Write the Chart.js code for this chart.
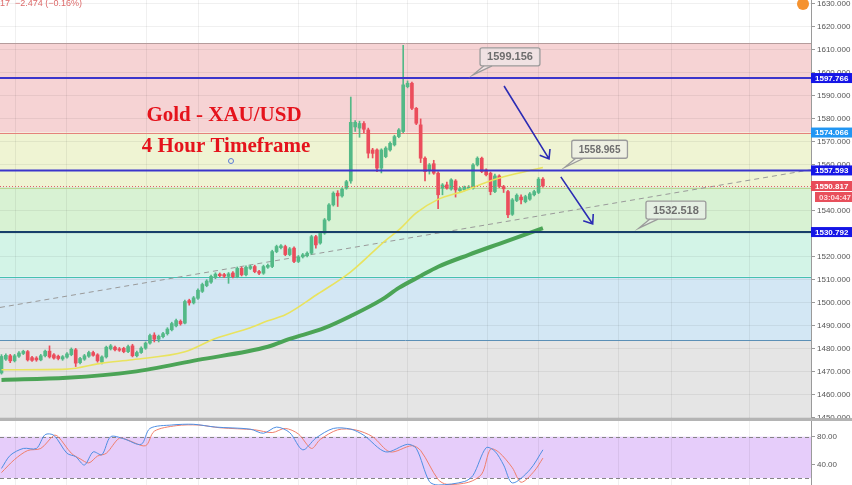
<!DOCTYPE html>
<html>
<head>
<meta charset="utf-8">
<script src="https://cdn.jsdelivr.net/npm/chart.js@4.4.0/dist/chart.umd.min.js"></script>
<style>
  body { margin: 0; background: #fff; width: 852px; height: 485px; overflow: hidden; position: relative; }
  #priceWrap { position: absolute; left: 0; top: 0; width: 852px; height: 419px; }
  #sep { position: absolute; left: 0; top: 418px; width: 852px; height: 3px; background: #b4b4b4; }
  #oscWrap { position: absolute; left: 0; top: 421px; width: 852px; height: 64px; }
</style>
</head>
<body>
<div id="priceWrap"><canvas id="priceChart"></canvas></div>
<div id="sep"></div>
<div id="oscWrap"><canvas id="oscChart"></canvas></div>
<script>
// 1. DATA (4 hour candles, index = candle number)
const openP = [
  1469.5, 1475.5, 1477.0, 1474.8, 1476.8, 1478.0, 1478.8, 1476.2, 1476.0, 1475.2,
  1477.0, 1479.0, 1477.4, 1476.8, 1475.6, 1476.4, 1477.5, 1479.6, 1474.0, 1475.5,
  1476.8, 1478.4, 1477.4, 1474.2, 1476.5, 1480.0, 1480.7, 1480.0, 1480.2, 1478.8,
  1481.3, 1477.0, 1478.4, 1480.3, 1482.5, 1486.0, 1484.2, 1485.3, 1486.6, 1488.3,
  1490.0, 1492.0, 1491.2, 1501.0, 1500.0, 1502.0, 1505.0, 1507.5, 1509.0, 1511.0,
  1512.5, 1512.3, 1511.5, 1513.0, 1511.4, 1515.0, 1512.2, 1515.0, 1515.8, 1513.6,
  1512.9, 1515.5, 1515.8, 1522.3, 1524.0, 1524.5, 1521.0, 1523.8, 1518.0, 1520.0,
  1520.5, 1521.6, 1528.8, 1526.0, 1530.3, 1536.1, 1542.6, 1547.7, 1546.5, 1549.9,
  1553.0, 1576.5, 1576.0, 1578.0, 1575.2, 1566.5, 1566.5, 1558.6, 1563.6, 1566.5,
  1568.7, 1572.3, 1574.5, 1594.0, 1595.5, 1584.6, 1577.4, 1562.9, 1557.8, 1560.5,
  1556.4, 1549.9, 1551.3, 1549.5, 1553.0, 1548.8, 1549.2, 1549.8, 1549.9, 1560.0,
  1562.9, 1557.8, 1556.4, 1548.4, 1555.2, 1550.6, 1548.4, 1538.5, 1544.5, 1546.0,
  1544.0, 1545.1, 1547.0, 1548.0, 1553.8
];
const highP = [
  1477.5, 1477.8, 1477.6, 1477.6, 1478.8, 1479.4, 1479.3, 1476.8, 1476.6, 1477.6,
  1479.5, 1481.3, 1478.0, 1477.3, 1477.1, 1478.4, 1480.4, 1480.2, 1476.3, 1477.6,
  1479.0, 1479.0, 1477.9, 1477.0, 1481.2, 1481.9, 1481.2, 1480.6, 1480.7, 1481.6,
  1482.0, 1479.0, 1480.9, 1483.0, 1486.4, 1487.0, 1486.0, 1487.2, 1489.2, 1491.6,
  1492.9, 1492.6, 1501.2, 1501.6, 1502.8, 1506.1, 1508.6, 1510.1, 1512.1, 1513.1,
  1513.0, 1512.8, 1513.2, 1513.6, 1515.6, 1515.6, 1516.1, 1516.4, 1516.4, 1514.2,
  1516.4, 1516.9, 1522.9, 1525.1, 1525.4, 1525.1, 1524.1, 1524.4, 1520.6, 1521.5,
  1522.2, 1529.4, 1529.4, 1530.9, 1536.7, 1543.2, 1548.3, 1548.8, 1550.0, 1553.3,
  1589.5, 1579.3, 1579.0, 1578.8, 1576.0, 1567.2, 1567.0, 1567.0, 1567.9, 1570.0,
  1572.9, 1575.8, 1612.0, 1596.5, 1596.0, 1585.0, 1580.0, 1563.5, 1560.6, 1562.0,
  1557.0, 1551.9, 1552.5, 1554.0, 1553.6, 1550.2, 1550.8, 1551.0, 1560.6, 1563.5,
  1563.4, 1558.3, 1556.9, 1556.0, 1555.7, 1551.1, 1548.9, 1545.4, 1547.4, 1547.0,
  1546.8, 1548.0, 1549.0, 1554.5, 1554.5
];
const lowP = [
  1469.0, 1475.0, 1474.0, 1474.3, 1476.3, 1477.5, 1474.7, 1474.5, 1474.6, 1474.8,
  1476.5, 1476.0, 1475.5, 1475.2, 1475.0, 1476.0, 1477.0, 1472.3, 1473.5, 1475.0,
  1476.3, 1476.8, 1474.2, 1473.5, 1476.0, 1479.5, 1479.1, 1478.9, 1478.3, 1478.3,
  1476.5, 1476.5, 1478.0, 1479.8, 1482.0, 1483.0, 1483.0, 1484.8, 1486.0, 1487.8,
  1489.5, 1490.3, 1490.8, 1499.0, 1499.5, 1501.5, 1504.5, 1507.0, 1508.5, 1510.5,
  1511.3, 1511.0, 1508.5, 1510.8, 1510.9, 1511.7, 1511.7, 1514.5, 1513.1, 1512.3,
  1512.4, 1515.0, 1515.3, 1521.8, 1523.5, 1520.5, 1520.5, 1517.5, 1517.5, 1519.5,
  1520.0, 1521.1, 1523.8, 1525.5, 1529.8, 1535.6, 1542.1, 1541.9, 1546.0, 1549.4,
  1552.0, 1574.5, 1572.0, 1574.0, 1563.0, 1563.0, 1557.0, 1556.5, 1563.1, 1566.0,
  1568.2, 1571.8, 1574.0, 1593.5, 1584.0, 1577.5, 1561.0, 1553.0, 1556.0, 1555.9,
  1541.0, 1547.0, 1549.4, 1549.0, 1546.0, 1548.3, 1548.7, 1549.3, 1549.4, 1559.5,
  1556.6, 1555.2, 1547.0, 1547.9, 1550.1, 1548.0, 1537.0, 1538.0, 1544.0, 1543.0,
  1543.5, 1544.6, 1546.5, 1547.5, 1550.3
];
const closeP = [
  1476.7, 1477.2, 1474.8, 1477.0, 1478.2, 1478.9, 1475.2, 1475.0, 1475.2, 1477.0,
  1479.0, 1476.5, 1476.0, 1475.8, 1476.6, 1477.8, 1479.8, 1473.8, 1475.8, 1477.0,
  1478.4, 1477.2, 1474.8, 1476.5, 1480.7, 1481.3, 1479.6, 1479.4, 1478.8, 1481.0,
  1477.0, 1478.4, 1480.3, 1482.5, 1485.8, 1484.2, 1485.5, 1486.6, 1488.6, 1491.0,
  1492.3, 1490.9, 1500.6, 1500.0, 1502.2, 1505.5, 1508.0, 1509.5, 1511.5, 1512.5,
  1511.8, 1511.6, 1512.6, 1511.4, 1515.0, 1512.2, 1515.5, 1515.8, 1513.6, 1512.9,
  1515.8, 1516.3, 1522.3, 1524.5, 1524.8, 1521.0, 1523.5, 1518.0, 1520.0, 1520.9,
  1521.6, 1528.8, 1525.2, 1530.3, 1536.1, 1542.6, 1547.7, 1546.5, 1549.4, 1552.7,
  1578.5, 1578.5, 1578.0, 1575.5, 1565.1, 1565.0, 1558.6, 1566.5, 1567.3, 1569.4,
  1572.3, 1575.2, 1594.8, 1595.5, 1584.6, 1578.1, 1562.9, 1557.1, 1560.0, 1556.4,
  1547.0, 1551.3, 1549.9, 1553.5, 1549.1, 1549.6, 1550.2, 1550.4, 1560.0, 1562.9,
  1557.1, 1555.7, 1548.4, 1555.2, 1550.6, 1549.6, 1538.3, 1544.8, 1546.8, 1544.8,
  1546.2, 1547.4, 1548.4, 1553.8, 1550.8
];

// moving averages (read at a few candles)
const maFastIdx = [0, 15, 23, 30, 42, 49, 57, 61, 65, 72, 80, 88, 91, 95, 100, 106, 110, 115, 124];
const maFastVal = [1470.9, 1471.2, 1473.8, 1475.3, 1478.7, 1484.5, 1489.2, 1492.2, 1494.8, 1503.3,
                   1513.5, 1527.2, 1531.7, 1539.1, 1545.0, 1548.7, 1551.7, 1554.8, 1558.9];
const maSlowIdx = [0, 15, 30, 45, 61, 66, 74, 80, 87, 91, 96, 100, 107, 114, 124];
const maSlowVal = [1466.5, 1467.4, 1470.0, 1475.2, 1480.9, 1484.3, 1489.1, 1494.3, 1501.3, 1506.5,
                   1511.7, 1515.7, 1520.9, 1525.7, 1532.5];

// dashed trend line
const trendIdx = [-0.34, 185.4];
const trendVal = [1498.0, 1557.9];

// fibonacci levels (1612.8 -> 1448.7) and horizontal lines
const fibLevels = [1612.8, 1574.066, 1550.1, 1530.8, 1511.4, 1483.8, 1448.7];
const hLines = [1597.766, 1557.593, 1530.792];
const lastPrice = 1550.817;
const countdown = '03:04:47';
const headerText = '17  \u22122.474 (\u22120.16%)';

// callouts
const calloutIdx = [108, 129, 146];
const calloutVal = [1599.156, 1558.965, 1532.518];

// arrows
const arrowFromIdx = [115.1, 128.1];
const arrowFromVal = [1594.3, 1554.8];
const arrowToIdx = [125.4, 135.4];
const arrowToVal = [1562.6, 1534.3];

// stochastic
const kIdx = [0, 2, 5, 8, 10, 12, 15, 17, 19, 21, 23, 25, 28, 32, 34, 39, 44, 49, 57, 60,
              63, 66, 69, 72, 76, 80, 83, 88, 93, 95, 98, 100, 106, 108, 111, 113, 115, 117, 121, 124];
const kVal = [34, 53, 63, 63, 83, 82, 56, 51, 39, 58, 54, 80, 77, 69, 92, 97, 98, 94, 91, 85,
              94, 86, 61, 78, 92, 91, 82, 58, 69, 63, 15, 10, 15, 24, 64, 59, 39, 13, 32, 61];
const dIdx = [0, 3, 6, 9, 12, 13, 16, 18, 20, 22, 24, 27, 29, 33, 35, 40, 45, 50, 58, 62,
              65, 68, 71, 73, 77, 81, 85, 89, 94, 96, 100, 102, 107, 110, 112, 114, 117, 119, 122, 124];
const dVal = [28, 47, 60, 63, 82, 80, 56, 48, 42, 52, 56, 78, 75, 67, 88, 96, 97, 93, 90, 86,
              92, 84, 63, 76, 90, 90, 80, 58, 67, 60, 18, 11, 14, 26, 62, 57, 35, 14, 30, 49];

// ticks
const priceTicks = [1450, 1460, 1470, 1480, 1490, 1500, 1510, 1520, 1530, 1540,
                    1550, 1560, 1570, 1580, 1590, 1600, 1610, 1620, 1630];
const oscTicks = [40, 80];
const oscBand = [20, 80];
const timeGridAt = [3.1, 15.0, 33.3, 45.2, 68.1, 81.2, 93.1, 111.2, 123.1, 141.2, 153.5, 171.4];

// 2. STYLE
const UP = '#53b987', DOWN = '#eb4d5c';
const zoneFill = ['#f6d3d4', '#eff4d3', '#d8f2d3', '#d3f4e7', '#d3e7f4', '#e5e5e5'];
const fibLine = ['#b59c9c', '#e5827c', '#b9d894', '#2a5a80', '#45c1b0', '#5b8fb6', '#999999'];
const hLineColor = ['#3b35cc', '#3b35cc', '#173f6b'];
const GRID = 'rgba(0,0,0,0.06)';
const AXIS = '#9a9a9a';
const X_MIN = -0.34, X_MAX = 185.4;

const candleColor = ctx => closeP[ctx.dataIndex] >= openP[ctx.dataIndex] ? UP : DOWN;

function xAxis() {
  return {
    type: 'linear', min: X_MIN, max: X_MAX, offset: false,
    grid: { color: GRID, drawTicks: false, offset: false },
    border: { display: false },
    ticks: { display: false },
    afterBuildTicks: s => { s.ticks = timeGridAt.map(v => ({ value: v })); },
    afterFit: s => { s.height = 0; s.paddingLeft = 0; s.paddingRight = 0; }
  };
}

function yAxis(min, max, ticks, decimals, showGrid) {
  return {
    type: 'linear', position: 'right', min: min, max: max, beginAtZero: false,
    grid: { color: GRID, drawOnChartArea: showGrid, tickColor: AXIS, tickLength: 4 },
    border: { color: AXIS },
    ticks: {
      color: '#555', padding: 2,
      font: { family: 'Liberation Sans', size: 8 },
      callback: v => Number(v).toFixed(decimals)
    },
    afterBuildTicks: s => { s.ticks = ticks.map(v => ({ value: v })); },
    afterFit: s => { s.width = 41; s.paddingTop = 0; s.paddingBottom = 0; }
  };
}

function drawArrow(ctx, x1, y1, x2, y2) {
  const ang = Math.atan2(y2 - y1, x2 - x1);
  ctx.beginPath();
  ctx.moveTo(x1, y1);
  ctx.lineTo(x2, y2);
  ctx.moveTo(x2 - 10 * Math.cos(ang - 0.65), y2 - 10 * Math.sin(ang - 0.65));
  ctx.lineTo(x2, y2);
  ctx.lineTo(x2 - 10 * Math.cos(ang + 0.65), y2 - 10 * Math.sin(ang + 0.65));
  ctx.stroke();
}

function axisTag(ctx, left, yc, text, bg, fg) {
  ctx.fillStyle = bg;
  ctx.fillRect(left, yc - 5, 852 - left, 10);
  ctx.fillStyle = fg;
  ctx.font = 'bold 8px "Liberation Sans"';
  ctx.textBaseline = 'middle';
  ctx.textAlign = 'left';
  ctx.fillText(text, left + 4, yc + 0.5);
}

// 3. PLUGINS
const priceDecor = {
  id: 'priceDecor',
  beforeDraw(chart) {
    const { ctx, chartArea: a, scales: { y } } = chart;
    ctx.save();
    ctx.beginPath();
    ctx.rect(a.left, a.top, a.right - a.left, a.bottom - a.top);
    ctx.clip();
    for (let k = 0; k < fibLevels.length - 1; k++) {
      const y1 = y.getPixelForValue(fibLevels[k]);
      const y2 = y.getPixelForValue(fibLevels[k + 1]);
      ctx.fillStyle = zoneFill[k];
      ctx.fillRect(a.left, y1, a.right - a.left, y2 - y1);
    }
    ctx.restore();
  },
  beforeDatasetsDraw(chart) {
    const { ctx, chartArea: a, scales: { y } } = chart;
    ctx.save();
    ctx.lineWidth = 1;
    fibLevels.forEach((lv, k) => {
      const py = Math.round(y.getPixelForValue(lv)) + 0.5;
      ctx.strokeStyle = fibLine[k];
      ctx.beginPath();
      ctx.moveTo(a.left, py);
      ctx.lineTo(a.right, py);
      ctx.stroke();
    });
    ctx.restore();
  },
  afterDatasetsDraw(chart) {
    const { ctx, chartArea: a, scales: { y } } = chart;
    ctx.save();
    ctx.lineWidth = 2;
    hLines.forEach((lv, k) => {
      const py = y.getPixelForValue(lv);
      ctx.strokeStyle = hLineColor[k];
      ctx.beginPath();
      ctx.moveTo(a.left, py);
      ctx.lineTo(a.right, py);
      ctx.stroke();
    });
    // last price dotted line
    const lp = Math.round(y.getPixelForValue(lastPrice)) + 0.5;
    ctx.lineWidth = 1;
    ctx.strokeStyle = '#e0606a';
    ctx.setLineDash([1, 2]);
    ctx.beginPath();
    ctx.moveTo(a.left, lp);
    ctx.lineTo(a.right, lp);
    ctx.stroke();
    ctx.restore();
  },
  afterDraw(chart) {
    const { ctx, chartArea: a, scales: { x, y } } = chart;
    ctx.save();

    // arrows
    ctx.strokeStyle = '#2c2cb4';
    ctx.lineWidth = 1.6;
    arrowFromIdx.forEach((fi, k) => {
      drawArrow(ctx, x.getPixelForValue(fi), y.getPixelForValue(arrowFromVal[k]),
                x.getPixelForValue(arrowToIdx[k]), y.getPixelForValue(arrowToVal[k]));
    });

    // callouts
    const sizes = [11, 10, 11];
    calloutIdx.forEach((ci, k) => {
      const tx = x.getPixelForValue(ci), ty = y.getPixelForValue(calloutVal[k]);
      const label = calloutVal[k].toFixed(3);
      ctx.font = 'bold ' + sizes[k] + 'px "Liberation Sans"';
      const w = ctx.measureText(label).width + 14, h = 18;
      const bx = tx + 7, by = ty - 27;
      ctx.beginPath();
      ctx.moveTo(bx + 4, by + h);
      ctx.lineTo(tx, ty);
      ctx.lineTo(bx + 12, by + h);
      ctx.fillStyle = 'rgba(236,236,236,0.6)';
      ctx.strokeStyle = '#9b9b9b';
      ctx.lineWidth = 1.3;
      ctx.fill();
      ctx.stroke();
      ctx.beginPath();
      ctx.roundRect(bx, by, w, h, 2);
      ctx.fill();
      ctx.stroke();
      ctx.fillStyle = '#6e6e6e';
      ctx.textAlign = 'center';
      ctx.textBaseline = 'middle';
      ctx.fillText(label, bx + w / 2, by + h / 2 + 0.5);
    });

    // title
    ctx.fillStyle = '#e5131c';
    ctx.font = 'bold 21px "Liberation Serif"';
    ctx.textAlign = 'center';
    ctx.textBaseline = 'middle';
    ctx.fillText('Gold - XAU/USD', 224, 116);
    ctx.fillText('4 Hour Timeframe', 226, 147);

    ctx.strokeStyle = '#5a7bd6';
    ctx.lineWidth = 1;
    ctx.beginPath();
    ctx.arc(231, 161, 2.5, 0, Math.PI * 2);
    ctx.stroke();

    // header text
    ctx.fillStyle = '#dd6b6b';
    ctx.font = '9px "Liberation Sans"';
    ctx.textAlign = 'left';
    ctx.textBaseline = 'alphabetic';
    ctx.fillText(headerText, 0, 6);

    // alert badge
    ctx.fillStyle = '#f5922f';
    ctx.beginPath();
    ctx.arc(803, 4, 6, 0, Math.PI * 2);
    ctx.fill();

    // axis tags
    const left = a.right;
    axisTag(ctx, left, y.getPixelForValue(hLines[0]), hLines[0].toFixed(3), '#1616e6', '#fff');
    axisTag(ctx, left, y.getPixelForValue(fibLevels[1]), fibLevels[1].toFixed(3), '#2196f3', '#fff');
    axisTag(ctx, left, y.getPixelForValue(hLines[1]), hLines[1].toFixed(3), '#1616e6', '#fff');
    const lpY = y.getPixelForValue(lastPrice);
    axisTag(ctx, left, lpY, lastPrice.toFixed(3), '#e84c59', '#fff');
    axisTag(ctx, left + 4, lpY + 11, countdown, '#e8505c', '#ffd9dc');
    axisTag(ctx, left, y.getPixelForValue(hLines[2]), hLines[2].toFixed(3), '#1616e6', '#fff');
    ctx.restore();
  }
};

const oscDecor = {
  id: 'oscDecor',
  beforeDraw(chart) {
    const { ctx, chartArea: a, scales: { y } } = chart;
    const y1 = y.getPixelForValue(oscBand[1]), y2 = y.getPixelForValue(oscBand[0]);
    ctx.save();
    ctx.fillStyle = '#e6cdfa';
    ctx.fillRect(a.left, y1, a.right - a.left, y2 - y1);
    ctx.restore();
  },
  beforeDatasetsDraw(chart) {
    const { ctx, chartArea: a, scales: { y } } = chart;
    ctx.save();
    ctx.strokeStyle = '#858585';
    ctx.lineWidth = 1;
    ctx.setLineDash([4, 3]);
    oscBand.forEach(v => {
      const py = Math.round(y.getPixelForValue(v)) + 0.5;
      ctx.beginPath();
      ctx.moveTo(a.left, py);
      ctx.lineTo(a.right, py);
      ctx.stroke();
    });
    ctx.restore();
  }
};

// 4. CHARTS
new Chart(document.getElementById('priceChart'), {
  type: 'bar',
  data: {
    datasets: [
      {
        type: 'line', label: 'MA fast', order: 0,
        data: maFastIdx.map((i, k) => ({ x: i, y: maFastVal[k] })),
        borderColor: '#e9e35e', borderWidth: 1.6, pointRadius: 0,
        cubicInterpolationMode: 'monotone'
      },
      {
        type: 'line', label: 'MA slow', order: 0,
        data: maSlowIdx.map((i, k) => ({ x: i, y: maSlowVal[k] })),
        borderColor: '#4ba456', borderWidth: 4, pointRadius: 0,
        cubicInterpolationMode: 'monotone'
      },
      {
        type: 'bar', label: 'body', order: 1, grouped: false,
        data: openP.map((o, i) => ({ x: i, y: [o, closeP[i]] })),
        backgroundColor: candleColor, barThickness: 3, minBarLength: 1
      },
      {
        type: 'bar', label: 'wick', order: 2, grouped: false,
        data: lowP.map((l, i) => ({ x: i, y: [l, highP[i]] })),
        backgroundColor: candleColor, barThickness: 1
      },
      {
        type: 'line', label: 'trend', order: 3,
        data: trendIdx.map((i, k) => ({ x: i, y: trendVal[k] })),
        borderColor: '#9a9a9a', borderWidth: 1, borderDash: [5, 4], pointRadius: 0
      }
    ]
  },
  options: {
    responsive: true, maintainAspectRatio: false, animation: false,
    layout: { padding: 0 },
    plugins: { legend: { display: false }, tooltip: { enabled: false } },
    scales: {
      x: xAxis(),
      y: yAxis(1449.5, 1631.7, priceTicks, 3, true)
    }
  },
  plugins: [priceDecor]
});

new Chart(document.getElementById('oscChart'), {
  type: 'line',
  data: {
    datasets: [
      {
        label: '%K', data: kIdx.map((i, k) => ({ x: i, y: kVal[k] })),
        borderColor: '#4f8fe3', borderWidth: 1, pointRadius: 0, tension: 0.3
      },
      {
        label: '%D', data: dIdx.map((i, k) => ({ x: i, y: dVal[k] })),
        borderColor: '#f07f6c', borderWidth: 1, pointRadius: 0, tension: 0.3
      }
    ]
  },
  options: {
    responsive: true, maintainAspectRatio: false, animation: false,
    layout: { padding: 0 },
    plugins: { legend: { display: false }, tooltip: { enabled: false } },
    scales: {
      x: xAxis(),
      y: yAxis(10, 102.8, oscTicks, 2, false)
    }
  },
  plugins: [oscDecor]
});
</script>
</body>
</html>
